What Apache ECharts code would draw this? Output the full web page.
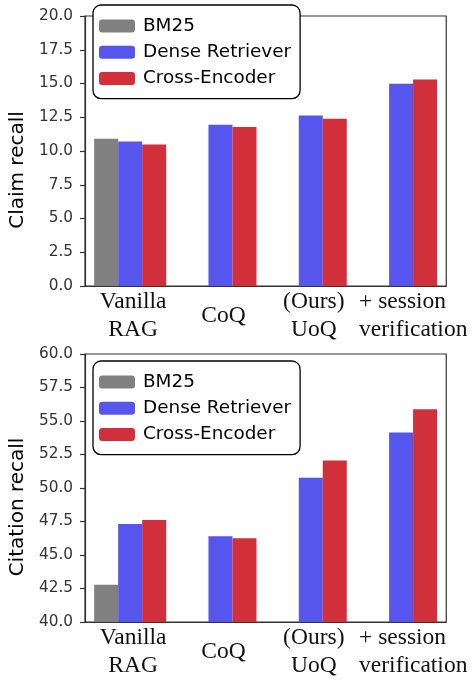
<!DOCTYPE html>
<html><head><meta charset="utf-8">
<script src="https://cdn.jsdelivr.net/npm/echarts@6/dist/echarts.min.js"></script>
<style>html,body{margin:0;padding:0;background:#fff}#c{width:472px;height:680px}</style>
</head><body><div id="c"></div>
<script>
const categories = ['Vanilla\nRAG', 'CoQ', '(Ours)\nUoQ', '+ session\nverification'];
const seriesNames = ['BM25', 'Dense Retriever', 'Cross-Encoder'];
const claimBM25 = [10.9, null, null, null];
const claimDense = [10.7, 11.94, 12.63, 14.98];
const claimCross = [10.48, 11.77, 12.39, 15.3];
const citeBM25 = [42.78, null, null, null];
const citeDense = [47.32, 46.4, 50.77, 54.14];
const citeCross = [47.62, 46.25, 52.06, 55.88];
const claimTicks = {min: 0, max: 20, interval: 2.5};
const citeTicks = {min: 40, max: 60, interval: 2.5};
const colors = ['#808080', '#5656ee', '#d12f3a'];

const chart = echarts.init(document.getElementById('c'), null, {renderer: 'canvas'});
const grids = [
  {left: 85, right: 25, top: 16, height: 270, show: true, borderColor: '#333', borderWidth: 1.2, backgroundColor: 'transparent'},
  {left: 85, right: 25, top: 354, height: 269, show: true, borderColor: '#333', borderWidth: 1.2, backgroundColor: 'transparent'}
];
const serifLabel = {fontFamily: 'Liberation Serif', fontSize: 23.5, lineHeight: 28, color: '#111'};
function xAxis(i) {
  return {
    type: 'category', gridIndex: i, data: categories,
    axisLine: {lineStyle: {color: '#333', width: 1.2}},
    axisTick: {alignWithLabel: true, length: 5, lineStyle: {color: '#333', width: 1.2}},
    axisLabel: {
      margin: 30, verticalAlign: 'middle', interval: 0,
      fontFamily: 'Liberation Serif', fontSize: 23.5, lineHeight: 28, color: '#111',
      formatter: (v, idx) => {
        const tag = idx === categories.length - 1 ? 'l' : 'c';
        return v.split('\n').map(s => '{' + tag + '|' + s + '}').join('\n');
      },
      rich: {
        c: Object.assign({padding: [0, 0, 0, 6]}, serifLabel),
        l: Object.assign({width: 110, align: 'left', padding: [0, 0, 0, 26]}, serifLabel)
      }
    }
  };
}
function yAxis(i, t, name) {
  return {
    type: 'value', gridIndex: i, min: t.min, max: t.max, interval: t.interval,
    name: name, nameLocation: 'middle', nameGap: 53,
    nameTextStyle: {fontFamily: 'DejaVu Sans', fontSize: 20, color: '#000', padding: [0, 38, 0, 0]},
    axisLine: {show: true, lineStyle: {color: '#333', width: 1.2}},
    axisTick: {show: true, length: 5, lineStyle: {color: '#333', width: 1.2}},
    splitLine: {show: false},
    axisLabel: {margin: 12, fontFamily: 'DejaVu Sans', fontSize: 15.3, color: '#333', formatter: v => v.toFixed(1)}
  };
}
function bar(name, data, i, c) {
  return {name: name, type: 'bar', xAxisIndex: i, yAxisIndex: i, data: data, barWidth: 24, barGap: '0%', itemStyle: {color: c}};
}
function legend(top) {
  return {
    orient: 'vertical', left: 93, top: top, data: seriesNames,
    itemWidth: 36, itemHeight: 13, itemGap: 8.3,
    backgroundColor: '#fff', borderColor: '#000', borderWidth: 1.3, borderRadius: 8,
    padding: [12, 9, 11, 6],
    textStyle: {fontFamily: 'DejaVu Sans', fontSize: 18.4, color: '#000', padding: [0, 0, 0, 3], lineHeight: 18},
    selectedMode: false
  };
}
chart.setOption({
  animation: false,
  color: colors,
  grid: grids,
  legend: [legend(5), legend(361)],
  xAxis: [xAxis(0), xAxis(1)],
  yAxis: [yAxis(0, claimTicks, 'Claim recall'), yAxis(1, citeTicks, 'Citation recall')],
  series: [
    bar(seriesNames[0], claimBM25, 0, colors[0]),
    bar(seriesNames[1], claimDense, 0, colors[1]),
    bar(seriesNames[2], claimCross, 0, colors[2]),
    bar(seriesNames[0], citeBM25, 1, colors[0]),
    bar(seriesNames[1], citeDense, 1, colors[1]),
    bar(seriesNames[2], citeCross, 1, colors[2])
  ]
});
</script></body></html>
